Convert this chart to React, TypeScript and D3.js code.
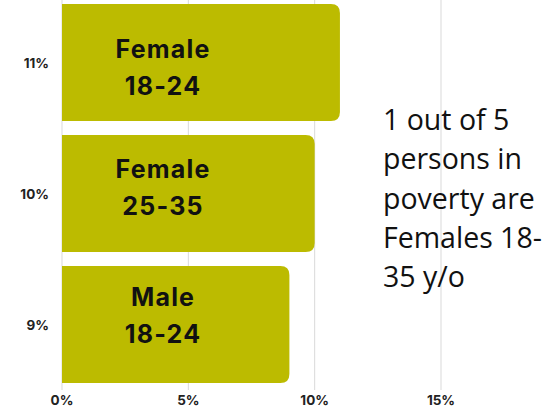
import React from "react";
import * as d3 from "d3";

const categories = ["11%", "10%", "9%"];
const values = [11, 10, 9];
const barLine1 = ["Female", "Female", "Male"];
const barLine2 = ["18-24", "25-35", "18-24"];
const xTicks = [0, 5, 10, 15];
const noteLines = ["1 out of 5", "persons in", "poverty are", "Females 18-", "35 y/o"];

// vertical nudges of in-bar labels (px, relative to band centre)
const labelDy = [-5, -15.5, -18.5];

const W = 560;
const H = 410;

export default function App() {
  const x = d3.scaleLinear().domain([0, 15]).range([62, 441]);
  const y = d3
    .scaleBand<string>()
    .domain(categories)
    .range([-3, 390])
    .paddingInner(0.107)
    .paddingOuter(0.0535);
  const bw = y.bandwidth();
  const r = 9;

  const barPath = (v: number, cat: string) => {
    const x0 = x(0);
    const x1 = x(v);
    const y0 = y(cat)!;
    const y1 = y0 + bw;
    const p = d3.path();
    p.moveTo(x0, y0);
    p.lineTo(x1 - r, y0);
    p.quadraticCurveTo(x1, y0, x1, y0 + r);
    p.lineTo(x1, y1 - r);
    p.quadraticCurveTo(x1, y1, x1 - r, y1);
    p.lineTo(x0, y1);
    p.closePath();
    return p.toString();
  };

  return (
    <svg
      width={W}
      height={H}
      style={{ position: "absolute", left: 0, top: 0, background: "#fff" }}
    >
      {xTicks.map((t) => (
        <line
          key={"g" + t}
          x1={x(t)}
          x2={x(t)}
          y1={0}
          y2={390}
          stroke="#d9d9d9"
          strokeWidth={1}
        />
      ))}
      {categories.map((c, i) => (
        <path key={"b" + c} d={barPath(values[i], c)} fill="#bcbb00" />
      ))}
      {categories.map((c, i) => {
        const cy = y(c)! + bw / 2;
        return (
          <g key={"t" + c}>
            <text
              x={x(4)}
              y={cy + labelDy[i]}
              textAnchor="middle"
              fontFamily="Inter, sans-serif"
              fontWeight={700}
              fontSize={25}
              letterSpacing={1.2}
              fill="#111"
            >
              {barLine1[i]}
            </text>
            <text
              x={x(4)}
              y={cy + labelDy[i] + 37}
              textAnchor="middle"
              fontFamily="Inter, sans-serif"
              fontWeight={700}
              fontSize={25}
              letterSpacing={1.2}
              fill="#111"
            >
              {barLine2[i]}
            </text>
            <text
              x={49}
              y={cy + 5}
              textAnchor="end"
              fontFamily="Inter, sans-serif"
              fontWeight={700}
              fontSize={13.5}
              fill="#222"
            >
              {c}
            </text>
          </g>
        );
      })}
      {xTicks.map((t) => (
        <text
          key={"xl" + t}
          x={x(t)}
          y={405}
          textAnchor="middle"
          fontFamily="Inter, sans-serif"
          fontWeight={700}
          fontSize={13.5}
          fill="#222"
        >
          {t + "%"}
        </text>
      ))}
      {noteLines.map((l, i) => (
        <text
          key={"n" + i}
          x={383}
          y={130 + i * 39.3}
          fontFamily="'Open Sans', sans-serif"
          fontSize={28.5}
          fill="#111"
        >
          {l}
        </text>
      ))}
    </svg>
  );
}
